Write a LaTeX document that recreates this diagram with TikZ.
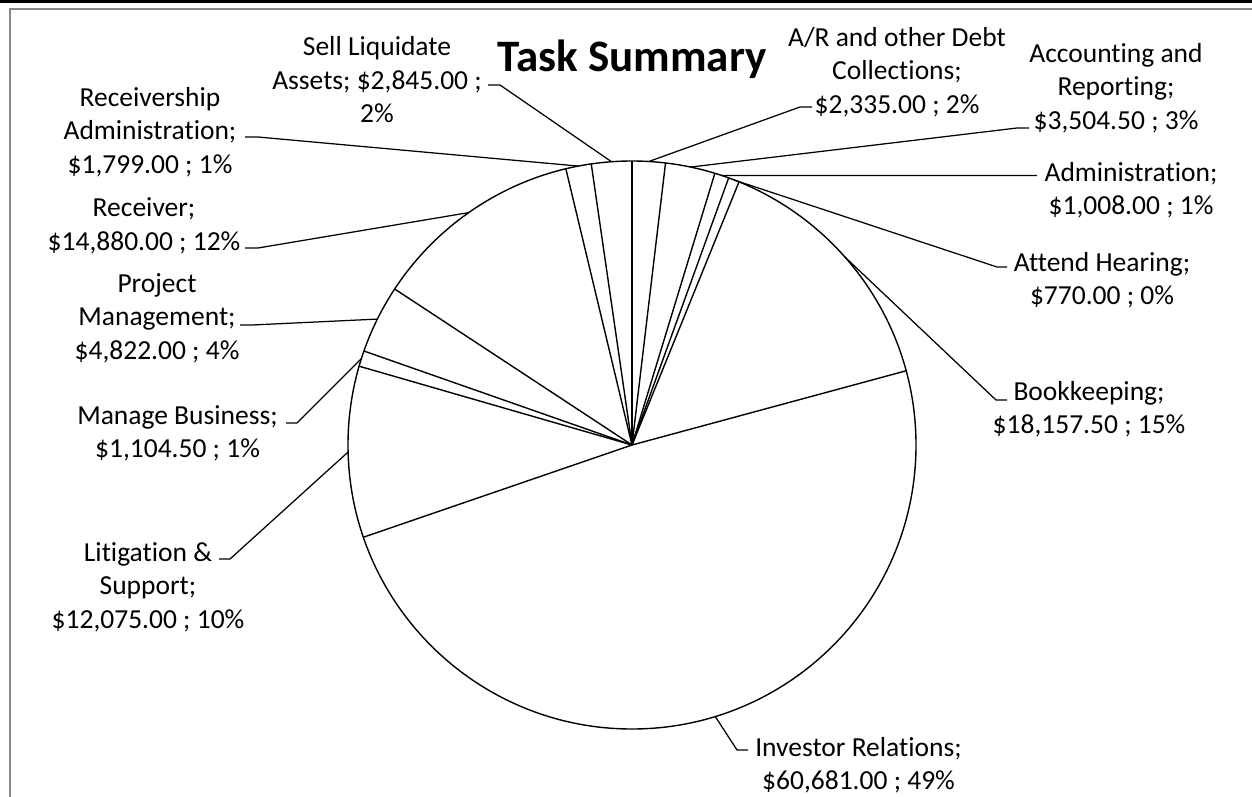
\documentclass[tikz,border=0pt]{standalone}
\usepackage{fontspec}
\setmainfont{Carlito}[Ligatures=NoCommon]
\usetikzlibrary{calc}
\definecolor{framegray}{RGB}{136,136,136}
\begin{document}
\begin{tikzpicture}[x=1pt,y=-1pt,
  lbl/.style={align=center,inner sep=0pt,font=\fontsize{27.5}{33.5}\selectfont},
  leader/.style={draw=black,line width=1.25pt},
  pieline/.style={draw=black,line width=1.4pt},
  titlestyle/.style={inner sep=0pt,anchor=base,font=\fontsize{45}{50}\selectfont\bfseries}
]
\useasboundingbox (0,0) rectangle (1252,797);
\fill[black] (0,0) rectangle (1252,3.5);
\draw[framegray,line width=2pt] (9.5,797) -- (9.5,9) -- (1252,9);

% pie
\coordinate (c) at (632,445);
\fill[white] (c) circle[radius=284pt];
\foreach \a in {90,83.22,73.04,70.11,67.87,15.15,-161.05,163.89,160.68,146.68,103.47,98.25}
  \draw[pieline] (c) -- ++(\a:284pt);
\draw[pieline] (c) circle[radius=284pt];

% leader points on the pie (slice mid angles)
\coordinate (pAR)   at ($(c)+(86.61:284pt)$);
\coordinate (pAcc)  at ($(c)+(78.13:284pt)$);
\coordinate (pAdm)  at ($(c)+(71.58:284pt)$);
\coordinate (pAtt)  at ($(c)+(68.99:284pt)$);
\coordinate (pBook) at ($(c)+(41.51:284pt)$);
\coordinate (pInv)  at ($(c)+(-72.95:284pt)$);
\coordinate (pLit)  at ($(c)+(181.42:284pt)$);
\coordinate (pMan)  at ($(c)+(162.28:284pt)$);
\coordinate (pProj) at ($(c)+(153.68:284pt)$);
\coordinate (pRec)  at ($(c)+(125.08:284pt)$);
\coordinate (pRA)   at ($(c)+(100.86:284pt)$);
\coordinate (pSell) at ($(c)+(94.13:284pt)$);

% title
\node[titlestyle] (title) at (632,72) {Task Summary};

% labels
\node[lbl] (tSell) at (377,80) {Sell Liquidate\\Assets; \$2,845.00 ;\\2\%};
\node[lbl] (tAR)   at (897,72) {A/R and other Debt\\Collections;\\\$2,335.00 ; 2\%};
\node[lbl] (tAcc)  at (1116,88) {Accounting and\\Reporting;\\\$3,504.50 ; 3\%};
\node[lbl] (tAdm)  at (1131,190) {Administration;\\\$1,008.00 ; 1\%};
\node[lbl] (tAtt)  at (1102,280) {Attend Hearing;\\\$770.00 ; 0\%};
\node[lbl] (tBook) at (1089,409) {Bookkeeping;\\\$18,157.50 ; 15\%};
\node[lbl] (tInv)  at (858.5,765) {Investor Relations;\\\$60,681.00 ; 49\%};
\node[lbl] (tLit)  at (148,587) {Litigation \&\\Support;\\\$12,075.00 ; 10\%};
\node[lbl] (tMan)  at (177.5,433.5) {Manage Business;\\\$1,104.50 ; 1\%};
\node[lbl] (tProj) at (157,318) {Project\\Management;\\\$4,822.00 ; 4\%};
\node[lbl] (tRec)  at (144,226) {Receiver;\\\$14,880.00 ; 12\%};
\node[lbl] (tRA)   at (150,132) {Receivership\\Administration;\\\$1,799.00 ; 1\%};

% leader ticks
\coordinate (kSell) at (488,85);
\coordinate (kAR)   at (812,107);
\coordinate (kAcc)  at (1029,128);
\coordinate (kAdm)  at (1037,175.6);
\coordinate (kAtt)  at (1007,267);
\coordinate (kBook) at (1007,400);
\coordinate (kInv)  at (748,750);
\coordinate (kLit)  at (219,559);
\coordinate (kMan)  at (286,423);
\coordinate (kProj) at (240,325);
\coordinate (kRec)  at (245,248);
\coordinate (kRA)   at (245,137);

\draw[leader] (kSell) -- ++(12,0) -- (pSell);
\draw[leader] (kAR) -- ++(-12,0) -- (pAR);
\draw[leader] (kAcc) -- ++(-12,0) -- (pAcc);
\draw[leader] (kAdm) -- (pAdm);
\draw[leader] (kAtt) -- ++(-10,0) -- (pAtt);
\draw[leader] (kBook) -- ++(-11,0) -- (pBook);
\draw[leader] (kInv) -- ++(-11,0) -- (pInv);
\draw[leader] (kLit) -- ++(11,0) -- (pLit);
\draw[leader] (kMan) -- ++(11,0) -- (pMan);
\draw[leader] (kProj) -- ++(12,0) -- (pProj);
\draw[leader] (kRec) -- ++(13,0) -- (pRec);
\draw[leader] (kRA) -- ++(13,0) -- (pRA);
\end{tikzpicture}
\end{document}
